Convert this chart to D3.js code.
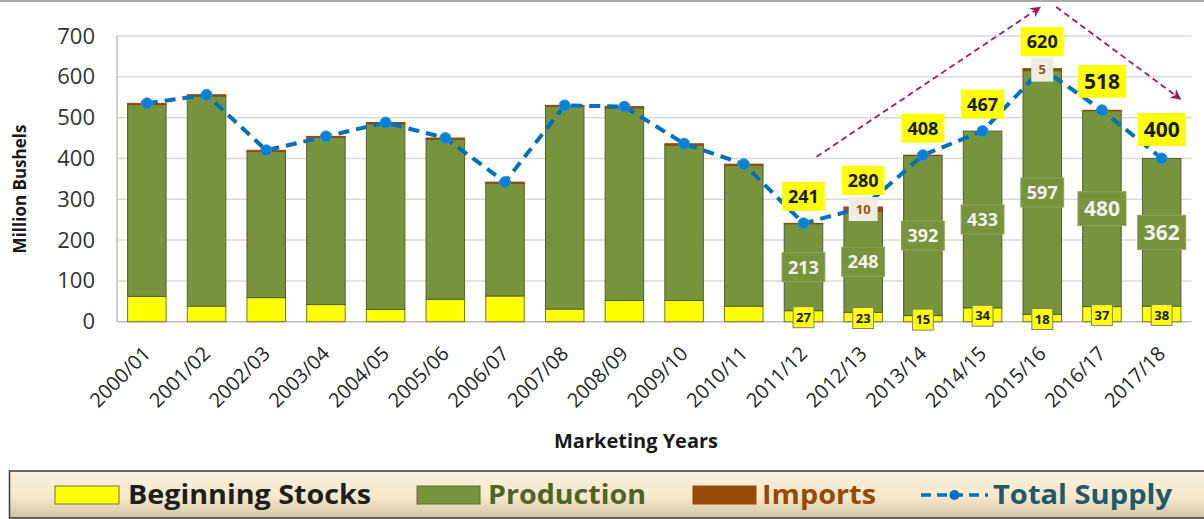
<!DOCTYPE html>
<html>
<head>
<meta charset="utf-8">
<script src="https://cdn.jsdelivr.net/npm/d3@7"></script>
<style>
  body { margin: 0; background: #fff; }
  svg { display: block; font-family: "Open Sans", sans-serif; }
</style>
</head>
<body>
<svg id="chart" width="1204" height="519"></svg>
<script>
// Marketing years and supply components (million bushels)
var years = ["2000/01", "2001/02", "2002/03", "2003/04", "2004/05", "2005/06", "2006/07", "2007/08", "2008/09",
    "2009/10", "2010/11", "2011/12", "2012/13", "2013/14", "2014/15", "2015/16", "2016/17", "2017/18"];
var beginningStocks = [62, 38, 59, 42, 30, 55, 63, 31, 52, 52, 38, 27, 23, 15, 34, 18, 37, 38];
var production = [470, 515, 358, 410, 455, 392, 276, 497, 472, 381, 345, 213, 248, 392, 433, 597, 480, 362];
var imports = [3, 3, 3, 2, 3, 3, 3, 2, 3, 3, 3, 1, 10, 1, 0, 5, 1, 0];
var totalSupply = [535, 556, 420, 454, 488, 450, 342, 530, 527, 436, 386, 241, 280, 408, 467, 620, 518, 400];
var yTicks = [0, 100, 200, 300, 400, 500, 600, 700];
// years that get value labels
var labelledYears = ["2011/12", "2012/13", "2013/14", "2014/15", "2015/16", "2016/17", "2017/18"];
var bigLabelYears = ["2016/17", "2017/18"];
// trend arrows: start / end year, pixel nudge, value
var trendArrows = [
    {fromYear: "2011/12", fromDx: 13, fromV: 404, toYear: "2015/16", toDx: -3, toV: 769},
    {fromYear: "2015/16", fromDx: 14, fromV: 771, toYear: "2017/18", toDx: 18, toV: 547}
];
var legendItems = [
    {name: "Beginning Stocks", type: "rect", fill: "#ffff00", stroke: "#6b7b2e", text: "#1f1f1f", x: 55, w: 64, tx: 128, tw: 243},
    {name: "Production", type: "rect", fill: "#77933c", stroke: "#5a7030", text: "#4f6228", x: 417, w: 63, tx: 488, tw: 158},
    {name: "Imports", type: "rect", fill: "#984807", stroke: "#984807", text: "#984807", x: 693, w: 63, tx: 762, tw: 114},
    {name: "Total Supply", type: "line", fill: "#0070c0", stroke: "#0070c0", text: "#215968", x: 921, w: 67, tx: 993, tw: 179}
];

var svg = d3.select("#chart");

var x = d3.scaleBand()
    .domain(years)
    .range([117, 1191.5])
    .paddingInner(0.355)
    .paddingOuter(0.1775);
var y = d3.scaleLinear().domain([0, 700]).range([321.7, 36]);
var cx = function (yr) { return x(yr) + x.bandwidth() / 2; };

// frame line at the top
svg.append("line")
    .attr("x1", 0).attr("x2", 1204).attr("y1", 1).attr("y2", 1)
    .attr("stroke", "#8c8c8c").attr("stroke-width", 1.5);

// gridlines + y axis labels
var yAxis = svg.append("g").attr("class", "y-axis");
yAxis.selectAll("line.grid")
    .data(yTicks)
    .enter().append("line")
    .attr("class", "grid")
    .attr("x1", 117).attr("x2", 1191.5)
    .attr("y1", function (d) { return y(d); })
    .attr("y2", function (d) { return y(d); })
    .attr("stroke", function (d) { return d === 0 ? "#bfbfbf" : "#d9d9d9"; })
    .attr("stroke-width", 1.5);
yAxis.append("line")
    .attr("x1", 117).attr("x2", 117)
    .attr("y1", y(700)).attr("y2", y(0))
    .attr("stroke", "#bfbfbf").attr("stroke-width", 1.5);
yAxis.selectAll("text")
    .data(yTicks)
    .enter().append("text")
    .attr("x", 95)
    .attr("y", function (d) { return y(d) + 7.5; })
    .attr("text-anchor", "end")
    .attr("font-size", 22)
    .attr("fill", "#333333")
    .text(function (d) { return d; });

svg.append("text")
    .attr("transform", "translate(26,189) rotate(-90)")
    .attr("text-anchor", "middle")
    .attr("font-size", 17)
    .attr("font-weight", "bold")
    .attr("fill", "#1a1a1a")
    .text("Million Bushels");

// x axis labels
svg.append("g").attr("class", "x-axis")
    .selectAll("text")
    .data(years)
    .enter().append("text")
    .attr("transform", function (d) { return "translate(" + (cx(d) + 5) + ",355) rotate(-45)"; })
    .attr("text-anchor", "end")
    .attr("font-size", 20)
    .attr("fill", "#262626")
    .text(function (d) { return d; });

svg.append("text")
    .attr("x", 636).attr("y", 448)
    .attr("text-anchor", "middle")
    .attr("font-size", 20)
    .attr("font-weight", "bold")
    .attr("fill", "#1a1a1a")
    .text("Marketing Years");

// stacked bars
var rows = years.map(function (yr, i) {
    return {year: yr, stocks: beginningStocks[i], prod: production[i], imp: imports[i], total: totalSupply[i]};
});
var stack = d3.stack().keys(["stocks", "prod", "imp"])(rows);
var segColors = {stocks: "#ffff00", prod: "#77933c", imp: "#984807"};
var segStroke = {stocks: "#6b7b2e", prod: "#4f6228", imp: "#984807"};

svg.append("g").attr("class", "bars")
    .selectAll("g")
    .data(stack)
    .enter().append("g")
    .attr("fill", function (s) { return segColors[s.key]; })
    .attr("stroke", function (s) { return segStroke[s.key]; })
    .selectAll("rect")
    .data(function (s) { return s; })
    .enter().append("rect")
    .attr("x", function (d) { return x(d.data.year); })
    .attr("width", x.bandwidth())
    .attr("y", function (d) { return y(d[1]); })
    .attr("height", function (d) { return Math.max(0, y(d[0]) - y(d[1])); })
    .attr("stroke-width", 1);

// total supply line
var line = d3.line()
    .x(function (d) { return cx(d.year); })
    .y(function (d) { return y(d.total); });
svg.append("path")
    .datum(rows)
    .attr("d", line)
    .attr("fill", "none")
    .attr("stroke", "#0070c0")
    .attr("stroke-width", 4)
    .attr("stroke-dasharray", "11,7");
svg.append("g").selectAll("circle")
    .data(rows)
    .enter().append("circle")
    .attr("cx", function (d) { return cx(d.year); })
    .attr("cy", function (d) { return y(d.total); })
    .attr("r", 5.5)
    .attr("fill", "#0a7fd4")
    .attr("stroke", "#1b9ae8")
    .attr("stroke-width", 1);

// helper for boxed labels
function boxLabel(g, cxv, cyv, txt, opts) {
    var grp = g.append("g");
    var rect = grp.append("rect");
    var t = grp.append("text")
        .attr("x", cxv)
        .attr("y", cyv)
        .attr("dy", "0.36em")
        .attr("text-anchor", "middle")
        .attr("font-size", opts.size)
        .attr("font-weight", "bold")
        .attr("fill", opts.color)
        .text(txt);
    var w = Math.max(t.node().getComputedTextLength() + opts.padX * 2, opts.minW || 0);
    var h = opts.h;
    rect.attr("x", cxv - w / 2).attr("y", cyv - h / 2)
        .attr("width", w).attr("height", h)
        .attr("fill", opts.fill)
        .attr("stroke", opts.stroke || "none")
        .attr("stroke-width", opts.stroke ? 1 : 0);
}

var labels = svg.append("g").attr("class", "labels");
rows.forEach(function (d) {
    if (labelledYears.indexOf(d.year) < 0) { return; }
    var big = bigLabelYears.indexOf(d.year) >= 0;
    var c = cx(d.year);
    // beginning stocks
    boxLabel(labels, c, y(d.stocks / 2) + 1, d.stocks, {
        size: 13, color: "#1a1a1a", fill: "#ffff00", stroke: "#7f7f7f", padX: 3, minW: 20, h: 21
    });
    // production
    boxLabel(labels, c, y(d.stocks + d.prod / 2), d.prod, {
        size: big ? 21 : 18, color: "#f2f2f2", fill: "#77933c", stroke: "#8da758", padX: 6, h: big ? 34 : 29
    });
    // imports
    if (d.imp >= 5) {
        boxLabel(labels, c, y(d.stocks + d.prod + d.imp / 2), d.imp, {
            size: 13, color: "#a0501a", fill: "#eeece1", padX: 7, minW: 22, h: 24
        });
    }
    // total supply
    boxLabel(labels, c, y(d.total) - (big ? 29 : 27), d.total, {
        size: big ? 21 : 18, color: "#1a1a1a", fill: "#ffff00", padX: 6, h: big ? 33 : 29
    });
});

// trend arrows
var defs = svg.append("defs");
defs.append("marker")
    .attr("id", "arrowHead")
    .attr("viewBox", "0 0 10 10")
    .attr("refX", 8).attr("refY", 5)
    .attr("markerWidth", 6).attr("markerHeight", 6)
    .attr("orient", "auto")
    .append("path")
    .attr("d", "M0,0 L10,5 L0,10 L3,5 Z")
    .attr("fill", "#a3195b");
svg.append("g").selectAll("line")
    .data(trendArrows)
    .enter().append("line")
    .attr("x1", function (a) { return cx(a.fromYear) + a.fromDx; })
    .attr("y1", function (a) { return y(a.fromV); })
    .attr("x2", function (a) { return cx(a.toYear) + a.toDx; })
    .attr("y2", function (a) { return y(a.toV); })
    .attr("stroke", "#a3195b")
    .attr("stroke-width", 1.8)
    .attr("stroke-dasharray", "6,4")
    .attr("marker-end", "url(#arrowHead)");

// legend
var grad = defs.append("linearGradient")
    .attr("id", "legendFill")
    .attr("x1", 0).attr("y1", 0).attr("x2", 0).attr("y2", 1);
grad.append("stop").attr("offset", "0").attr("stop-color", "#faf0dc");
grad.append("stop").attr("offset", "0.55").attr("stop-color", "#f6e8cb");
grad.append("stop").attr("offset", "1").attr("stop-color", "#d3c5a6");

var legend = svg.append("g").attr("class", "legend");
legend.append("rect")
    .attr("x", 9.5).attr("y", 471)
    .attr("width", 1200).attr("height", 47)
    .attr("fill", "url(#legendFill)")
    .attr("stroke", "#3a3a3a")
    .attr("stroke-width", 1.5);
legendItems.forEach(function (it) {
    if (it.type === "rect") {
        legend.append("rect")
            .attr("x", it.x).attr("y", 486)
            .attr("width", it.w).attr("height", 18)
            .attr("fill", it.fill)
            .attr("stroke", it.stroke)
            .attr("stroke-width", 1);
    } else {
        legend.append("line")
            .attr("x1", it.x).attr("x2", it.x + it.w)
            .attr("y1", 495).attr("y2", 495)
            .attr("stroke", it.stroke)
            .attr("stroke-width", 3.5)
            .attr("stroke-dasharray", "10,6");
        legend.append("circle")
            .attr("cx", it.x + it.w / 2).attr("cy", 495)
            .attr("r", 5)
            .attr("fill", it.fill);
    }
    legend.append("text")
        .attr("x", it.tx).attr("y", 503.5)
        .attr("font-size", 26)
        .attr("font-weight", "bold")
        .attr("fill", it.text)
        .attr("textLength", it.tw)
        .attr("lengthAdjust", "spacingAndGlyphs")
        .text(it.name);
});
</script>
</body>
</html>
